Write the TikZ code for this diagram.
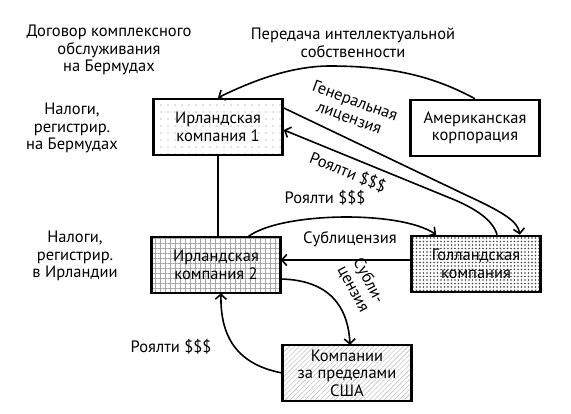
\documentclass[tikz,border=0pt]{standalone}
\usepackage{fontspec}
\setmainfont{PT Sans}
\usetikzlibrary{positioning}
\usetikzlibrary{arrows.meta}
\usetikzlibrary{patterns.meta}
\usetikzlibrary{calc}
\tikzset{
    mybox/.style = {rectangle, draw=black, line width=2.6pt, minimum width=129pt, minimum height=56pt, align=center, inner sep=2pt},
    myboxd/.style = {mybox, pattern={Dots[distance=7pt,radius=0.6pt]}, pattern color=gray}, % sparse dots
    myboxh/.style = {mybox, pattern={Hatch[distance=5pt,line width=0.4pt]}, pattern color=gray!70}, % crosshatch
    myboxdd/.style = {mybox, pattern={Dots[distance=3.5pt,radius=0.95pt]}, pattern color=black!75}, % dense dots
    myboxl/.style = {mybox, pattern={Lines[angle=45,distance=3.5pt,line width=0.4pt]}, pattern color=gray!60}, % lines
    edgen/.style = {-{Straight Barb[length=5pt,width=11pt]}, line width=1.6pt},
    edgep/.style = {line width=1.6pt},
    mytext/.style = {align=center, inner sep=0pt}
}

\begin{document}
\begin{tikzpicture}[x=1pt, y=-1pt,
  font=\fontsize{16.5}{17.5}\selectfont]
  \useasboundingbox (0,0) rectangle (571,413);

  % companies
  \node[myboxd]  at (218,127) (ir1) {Ирландская\\компания 1};
  \node[mybox]   at (475,128) (am)  {Американская\\корпорация};
  \node[myboxh]  at (216,265) (ir2) {Ирландская\\компания 2};
  \node[myboxdd] at (476,264) (du)  {Голландская\\компания};
  \node[myboxl]  at (347,373) (off) {Компании\\за пределами\\США};

  % side notes
  \node[mytext] at (109,50)  (tdog) {Договор комплексного\\обслуживания\\на Бермудах};
  \node[mytext] at (353,43)  (tip)  {Передача интеллектуальной\\собственности};
  \node[mytext] at (72,128)  (tbm)  {Налоги,\\регистрир.\\на Бермудах};
  \node[mytext] at (75,256)  (tirl) {Налоги,\\регистрир.\\в Ирландии};

  % flows
  \draw[edgen] (am.north) .. controls (440,80) and (400,66) .. (330,66)
     .. controls (290,66) and (250,82) .. (ir1.north);
  \draw[edgen] ($(ir1.east)+(0,-19)$) -- (468,196)
     .. controls (505,213) and (518,222) .. ($(du.north east)+(-22,0)$);
  \draw[edgen] ($(du.north)+(21,0)$) .. controls (493,220) and (475,208) .. (450,198)
     -- ($(ir1.east)+(0,3)$);
  \draw[edgep] (ir1.south) -- (ir1.south |- ir2.north);
  \draw[edgen] ($(ir2.north)+(32,0)$) .. controls (280,212) and (400,210) .. ($(du.north west)+(26,0)$);
  \draw[edgen] ($(du.west)+(0,-4)$) -- ($(du.west -| ir2.east)+(0,-4)$);
  \draw[edgen] ($(ir2.east)+(0,14)$) .. controls (328,280) and (348,305) .. ($(off.north)+(3,0)$);
  \draw[edgen] (off.west) .. controls (240,365) and (220,340) .. ($(ir2.south)+(5,0)$);

  % flow labels
  \node[mytext, rotate=-20] at (352,110) (lgen) {Генеральная\\лицензия};
  \node[mytext, rotate=-22] at (348,172) (lroy1) {Роялти \$\$\$};
  \node[mytext] at (325,198) (lroy2) {Роялти \$\$\$};
  \node[mytext] at (350,239) (lsub1) {Сублицензия};
  \node[mytext, rotate=-62] at (361,285) (lsub2) {Субли-\\цензия};
  \node[mytext] at (171,347) (lroy3) {Роялти \$\$\$};

\end{tikzpicture}
\end{document}
